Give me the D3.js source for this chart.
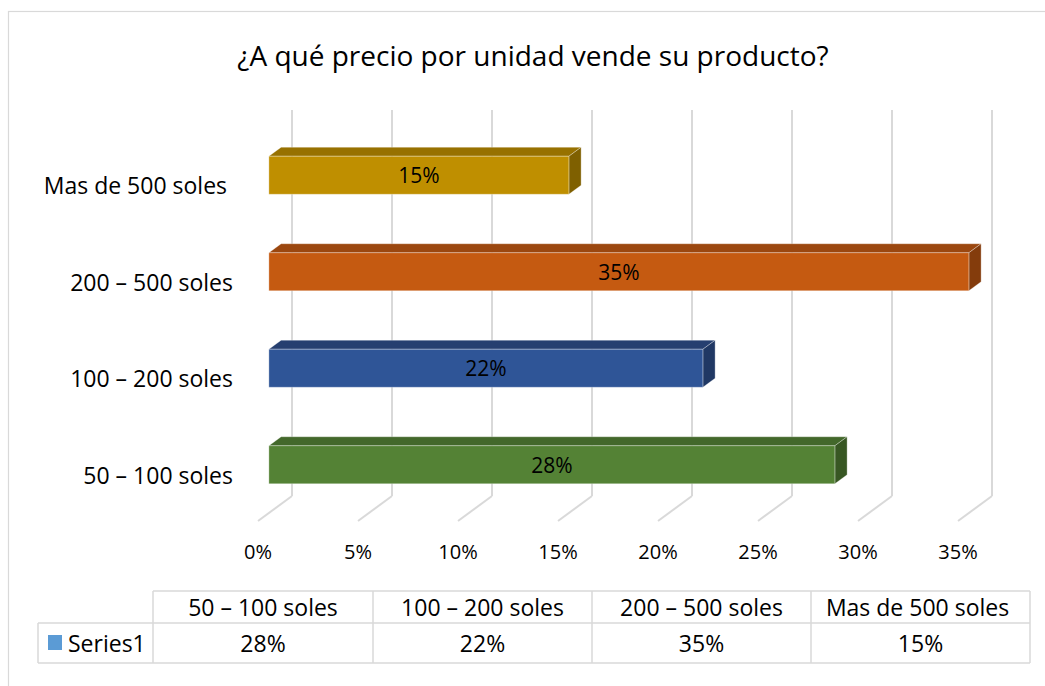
<!DOCTYPE html>
<html>
<head>
<meta charset="utf-8">
<script src="https://cdn.jsdelivr.net/npm/d3@7"></script>
<style>
  body { margin: 0; background: #fff; }
  text { font-family: "Open Sans", sans-serif; fill: #000; white-space: pre; }
</style>
</head>
<body>
<div id="chart"></div>
<script>

//********************* DATA ************************************

var title = "¿A qué precio por unidad vende su producto?";
var categories = ["50 – 100 soles", "100 – 200 soles", "200 – 500 soles", "Mas de 500 soles "];
var values = [0.283, 0.217, 0.35, 0.15];
var seriesName = "Series1";
var ticks = [0, 0.05, 0.10, 0.15, 0.20, 0.25, 0.30, 0.35];
var frontColors = ["#548235", "#2F5597", "#C55A11", "#BF8F00"];
var topColors   = ["#43682B", "#263F70", "#9B470F", "#977100"];
var sideColors  = ["#385723", "#203864", "#843C0C", "#7F6000"];

//********************* DIMENSIONS ************************************

var W = 1045, H = 686;
var wall = {left: 292, right: 992, top: 110, bottom: 496};
var depth = {dx: -34, dy: 25};     // wall -> front edge of the floor
var zBack = 0.32, zFront = 0.68;   // depth slice taken by the bars

var svg = d3.select("#chart").append("svg")
    .attr("width", W)
    .attr("height", H);

// chart border (only top and left edges inside the window)
svg.append("rect")
    .attr("x", 8.5).attr("y", 11.5)
    .attr("width", 1100).attr("height", 1000)
    .attr("fill", "none")
    .attr("stroke", "#D9D9D9")
    .attr("stroke-width", 1.2);

svg.append("text")
    .attr("x", 533).attr("y", 55)
    .attr("text-anchor", "middle")
    .attr("dominant-baseline", "central")
    .style("font-size", "28px")
    .text(title);

//********************* SCALES ************************************

var x = d3.scaleLinear().domain([0, 0.35]).range([wall.left, wall.right]);
var y = d3.scaleBand()
    .domain(categories.slice().reverse())
    .range([wall.top, wall.bottom])
    .paddingInner(0.606)
    .paddingOuter(0.303);

function proj(v, yy, z) {
  return [x(v) + depth.dx * z, yy + depth.dy * z];
}

//********************* GRID ************************************

var grid = svg.append("g")
    .attr("stroke", "#D9D9D9")
    .attr("stroke-width", 2)
    .attr("fill", "none");

grid.selectAll(".wall")
    .data(ticks)
  .enter().append("line")
    .attr("x1", function(d) { return x(d); })
    .attr("x2", function(d) { return x(d); })
    .attr("y1", wall.top)
    .attr("y2", wall.bottom);

grid.selectAll(".floor")
    .data(ticks)
  .enter().append("line")
    .attr("x1", function(d) { return x(d); })
    .attr("y1", wall.bottom)
    .attr("x2", function(d) { return proj(d, wall.bottom, 1)[0]; })
    .attr("y2", function(d) { return proj(d, wall.bottom, 1)[1]; });

svg.append("g").selectAll("text")
    .data(ticks)
  .enter().append("text")
    .attr("x", function(d) { return proj(d, wall.bottom, 1)[0]; })
    .attr("y", 551)
    .attr("text-anchor", "middle")
    .attr("dominant-baseline", "central")
    .style("font-size", "20px")
    .text(d3.format(".0%"));

//********************* BARS ************************************

var bars = svg.append("g").selectAll("g")
    .data(categories)
  .enter().append("g")
    .attr("stroke", "rgba(255,255,255,0.3)")
    .attr("stroke-width", 1);

function pts(list) {
  return list.map(function(p) { return p.join(","); }).join(" ");
}

bars.append("polygon")
    .attr("fill", function(d, i) { return topColors[i]; })
    .attr("points", function(d, i) {
      var t = y(d);
      return pts([proj(0, t, zFront), proj(values[i], t, zFront),
                  proj(values[i], t, zBack), proj(0, t, zBack)]);
    });

bars.append("polygon")
    .attr("fill", function(d, i) { return sideColors[i]; })
    .attr("points", function(d, i) {
      var t = y(d), b = y(d) + y.bandwidth();
      return pts([proj(values[i], t, zFront), proj(values[i], t, zBack),
                  proj(values[i], b, zBack), proj(values[i], b, zFront)]);
    });

bars.append("polygon")
    .attr("fill", function(d, i) { return frontColors[i]; })
    .attr("points", function(d, i) {
      var t = y(d), b = y(d) + y.bandwidth();
      return pts([proj(0, t, zFront), proj(values[i], t, zFront),
                  proj(values[i], b, zFront), proj(0, b, zFront)]);
    });

bars.append("text")
    .attr("stroke", "none")
    .attr("x", function(d, i) { return (proj(0, 0, zFront)[0] + proj(values[i], 0, zFront)[0]) / 2; })
    .attr("y", function(d) { return proj(0, y(d) + y.bandwidth() / 2, zFront)[1]; })
    .attr("text-anchor", "middle")
    .attr("dominant-baseline", "central")
    .style("font-size", "21px")
    .text(function(d, i) { return d3.format(".0%")(values[i]); });

// category labels
svg.append("g").selectAll("text")
    .data(categories)
  .enter().append("text")
    .attr("x", 233)
    .attr("y", function(d) { return y(d) + y.bandwidth() / 2 + 27; })
    .attr("text-anchor", "end")
    .attr("dominant-baseline", "central")
    .style("font-size", "23px")
    .text(function(d) { return d; });

//********************* DATA TABLE ************************************

var cols = [153, 373, 592, 811, 1030];
var rowTop = 591, rowMid = 623, rowBot = 663, tableLeft = 38;

var table = svg.append("g")
    .attr("stroke", "#D9D9D9")
    .attr("stroke-width", 1.5);

table.append("line").attr("x1", cols[0]).attr("x2", cols[4]).attr("y1", rowTop).attr("y2", rowTop);
table.append("line").attr("x1", tableLeft).attr("x2", cols[4]).attr("y1", rowMid).attr("y2", rowMid);
table.append("line").attr("x1", tableLeft).attr("x2", cols[4]).attr("y1", rowBot).attr("y2", rowBot);
table.append("line").attr("x1", tableLeft).attr("x2", tableLeft).attr("y1", rowMid).attr("y2", rowBot);
table.selectAll(".col")
    .data(cols)
  .enter().append("line")
    .attr("x1", function(d) { return d; })
    .attr("x2", function(d) { return d; })
    .attr("y1", rowTop)
    .attr("y2", rowBot);

svg.append("g").selectAll("text")
    .data(categories)
  .enter().append("text")
    .attr("x", function(d, i) { return (cols[i] + cols[i + 1]) / 2; })
    .attr("y", (rowTop + rowMid) / 2)
    .attr("text-anchor", "middle")
    .attr("dominant-baseline", "central")
    .style("font-size", "23px")
    .text(function(d) { return d; });

svg.append("g").selectAll("text")
    .data(values)
  .enter().append("text")
    .attr("x", function(d, i) { return (cols[i] + cols[i + 1]) / 2; })
    .attr("y", (rowMid + rowBot) / 2)
    .attr("text-anchor", "middle")
    .attr("dominant-baseline", "central")
    .style("font-size", "23px")
    .text(d3.format(".0%"));

svg.append("rect")
    .attr("x", 48).attr("y", 635)
    .attr("width", 14).attr("height", 15)
    .attr("fill", "#5B9BD5");

svg.append("text")
    .attr("x", 68)
    .attr("y", (rowMid + rowBot) / 2)
    .attr("dominant-baseline", "central")
    .style("font-size", "23px")
    .text(seriesName);

</script>
</body>
</html>
